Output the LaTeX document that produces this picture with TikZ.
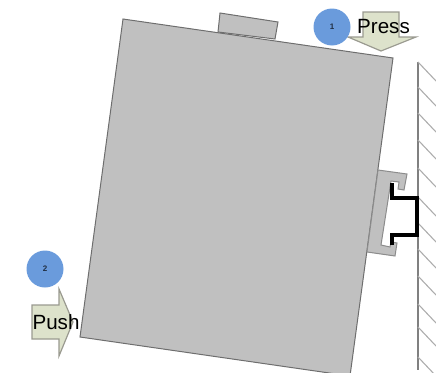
\documentclass[tikz,border=0pt]{standalone}
\usepackage{fontspec}
\setmainfont{Liberation Sans}
\definecolor{bodygray}{HTML}{C0C0C0}
\definecolor{edgegray}{HTML}{6E6E6E}
\definecolor{arrowfill}{HTML}{DDE2CB}
\definecolor{arrowedge}{HTML}{9A9A90}
\definecolor{badge}{HTML}{6A9BDC}
\tikzset{
  x=1pt,y=-1pt,
  device/.style={draw=edgegray,fill=bodygray,line width=1pt,line join=miter},
  clipbox/.style={draw=black!45,fill=bodygray,line width=1pt,line join=miter},
  callout/.style={draw=arrowedge,fill=arrowfill,line width=1.2pt},
  badgenode/.style={circle,fill=badge,minimum size=37pt,inner sep=0pt,text=black!70!badge,font=\fontsize{8}{8}\selectfont\bfseries},
  wall/.style={draw=gray,line width=1.1pt},
  hatch/.style={draw=black!32,line width=1.1pt},
  rail/.style={draw=black,line width=3.8pt,line join=miter},
  lbl/.style={inner sep=0pt,font=\fontsize{20.6}{21}\selectfont,text=black}
}
\begin{document}
\begin{tikzpicture}
\useasboundingbox (0,0) rectangle (436,372);
\begin{scope}
\clip (0,0) rectangle (436,372);
% wall
\draw[wall] (418,62) -- (418,370);
\foreach \y in {62,87,113,140,168,197,223,249,276,304,327,357}{
  \draw[hatch] (418,\y) -- (436,\y+19);
}
% press arrow
\draw[callout] (363,12) -- (399,12) -- (399,37) -- (416,37) -- (381,51) -- (348,37) -- (363,37) -- cycle;
% push arrow
\draw[callout] (32,305) -- (59,305) -- (59,289) -- (73,322) -- (59,356) -- (59,339) -- (32,339) -- cycle;
% top tab
\draw[device] (220,13) -- (278,22) -- (275,39) -- (218,32) -- cycle;
% body
\draw[device] (123,19) -- (393,58) -- (350,376) -- (80,337) -- cycle;
% clip
\draw[clipbox] (378,170) -- (407,174) -- (404,190) -- (398,189) -- (399,182) -- (391,181) -- (381,245) -- (390,247) -- (391,242) -- (397,243) -- (395,256) -- (367,252) -- cycle;
% rail
\draw[rail] (392,183) -- (392,198) -- (417,198) -- (417,235) -- (392,235) -- (392,245);
\end{scope}
\node[badgenode] (one) at (332,27) {1};
\node[badgenode] (two) at (45,269) {2};
\node[lbl] (press) at (383.5,27) {Press};
\node[lbl] (push) at (56,322) {Push};
\end{tikzpicture}
\end{document}
